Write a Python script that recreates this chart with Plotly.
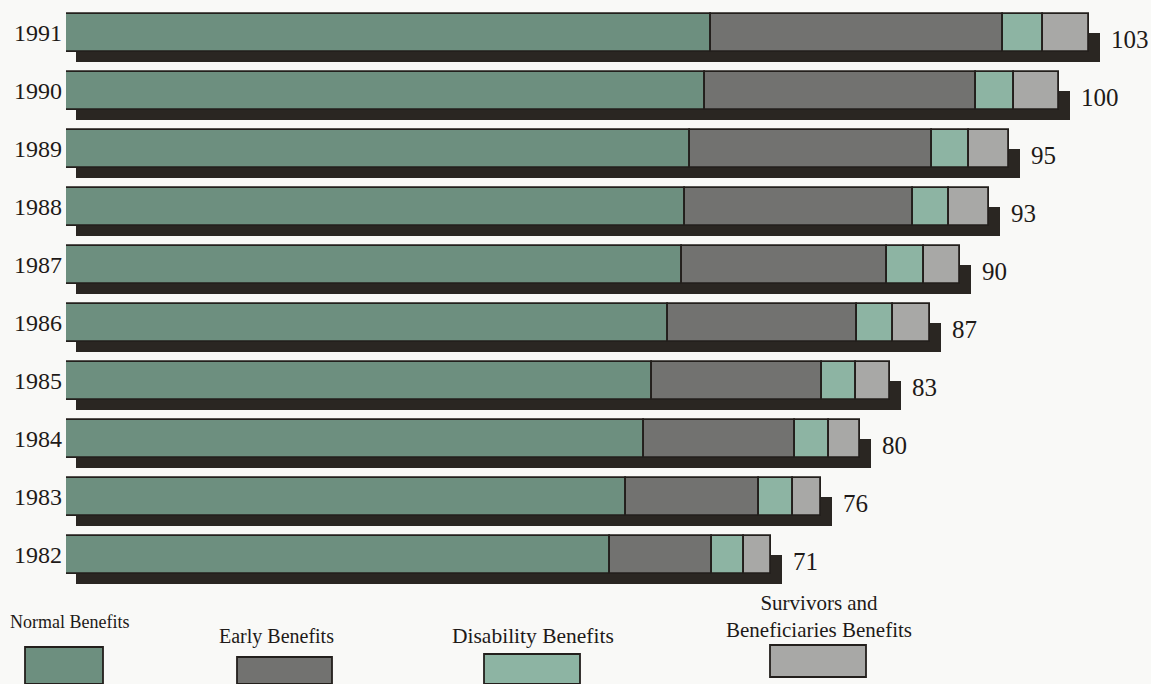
import plotly.graph_objects as go

# Benefits by year, stacked (left to right): normal, early, disability, survivors
years = ["1982", "1983", "1984", "1985", "1986", "1987", "1988", "1989", "1990", "1991"]
normal = [54.8, 56.4, 58.2, 59.0, 60.6, 62.0, 62.3, 62.8, 64.4, 65.0]
early = [10.3, 13.4, 15.2, 17.1, 19.1, 20.7, 23.0, 24.4, 27.2, 29.4]
disability = [3.2, 3.4, 3.4, 3.5, 3.6, 3.7, 3.6, 3.7, 3.9, 4.0]
survivors = [2.7, 2.8, 3.2, 3.4, 3.7, 3.6, 4.1, 4.1, 4.5, 4.6]
totals = [71, 76, 80, 83, 87, 90, 93, 95, 100, 103]

series_names = ["Normal Benefits", "Early Benefits", "Disability Benefits",
                "Survivors and<br>Beneficiaries Benefits"]
colors = ["#6d8f7f", "#727270", "#8db4a3", "#a8a8a6"]
SHADOW = "#2a2622"
OUTLINE = "#231f1c"
BG = "#f9f9f7"
TEXT = "#1e1a18"
FONT = "Liberation Serif"

W, H = 1151, 684
L = 66
PX_PER_UNIT = 9.93
ROW_PX = 58
X_MAX = (W - L) / PX_PER_UNIT
Y_TOP = len(years) - 1 + 33 / ROW_PX
Y_BOT = Y_TOP - H / ROW_PX

fig = go.Figure()

# Drop shadow behind each bar, shifted right and down
fig.add_trace(go.Bar(
    y=years, x=[t + 0.1 for t in totals], base=[1.0] * len(years),
    orientation="h", width=0.5, offset=-0.5,
    marker=dict(color=SHADOW, line=dict(width=0)),
    hoverinfo="skip", showlegend=False,
))

# Stacked segments with explicit bases
stack = [normal, early, disability, survivors]
base = [0.0] * len(years)
for name, vals, col in zip(series_names, stack, colors):
    fig.add_trace(go.Bar(
        y=years, x=vals, base=list(base), orientation="h",
        width=0.66, offset=-0.33, name=name,
        marker=dict(color=col, line=dict(color=OUTLINE, width=1.8)),
        showlegend=False,
    ))
    base = [b + v for b, v in zip(base, vals)]

shapes = []
annotations = []

# Total labels at the end of each bar (category index used for y)
for i, t in enumerate(totals):
    annotations.append(dict(
        x=t + 2.0, y=i, xref="x", yref="y", text=str(t), showarrow=False,
        xanchor="left", yanchor="middle", yshift=-6,
        font=dict(family=FONT, size=25, color=TEXT),
    ))


def px_x(p):
    return (p - L) / (W - L)


def px_y(p):
    return 1 - p / H


# Legend: label text and a swatch beneath each
legend_items = [
    (series_names[0], 69, 622, 18, 25, 103, 647, 684),
    (series_names[1], 276, 636, 20, 237, 332, 657, 684),
    (series_names[2], 533, 636, 21.5, 484, 580, 654, 684),
    (series_names[3], 819, 616, 21, 770, 866, 645, 677),
]
for (label, cx, cy, fs, x0, x1, y0, y1), col in zip(legend_items, colors):
    annotations.append(dict(
        x=px_x(cx), y=px_y(cy), xref="paper", yref="paper",
        text=label, showarrow=False, xanchor="center", yanchor="middle",
        font=dict(family=FONT, size=fs, color=TEXT),
    ))
    shapes.append(dict(
        type="rect", xref="paper", yref="paper",
        x0=px_x(x0), x1=px_x(x1), y0=px_y(y1), y1=px_y(y0),
        fillcolor=col, line=dict(color=OUTLINE, width=1.8),
    ))

fig.update_layout(
    width=W, height=H,
    margin=dict(l=L, r=0, t=0, b=0),
    paper_bgcolor=BG, plot_bgcolor=BG,
    barmode="overlay", bargap=0,
    shapes=shapes, annotations=annotations,
    xaxis=dict(range=[0, X_MAX], visible=False, fixedrange=True),
    yaxis=dict(
        type="category", categoryorder="array", categoryarray=years,
        range=[Y_BOT, Y_TOP], showgrid=False, zeroline=False, showline=False,
        ticks="", ticklabelstandoff=3,
        tickfont=dict(family=FONT, size=24, color=TEXT),
        fixedrange=True,
    ),
    showlegend=False,
)

fig.write_html("out.html")
